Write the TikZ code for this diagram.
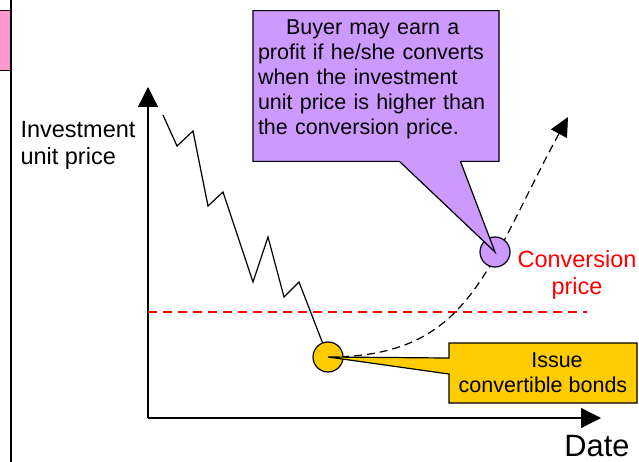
\documentclass[tikz,border=0pt]{standalone}
\usepackage{fontspec}
\setmainfont{Liberation Sans}
\usepackage{tikz}
\usetikzlibrary{arrows.meta,shapes.callouts}
\usepackage{xcolor}
\definecolor{tabpink}{HTML}{FF99CC}
\definecolor{buypurple}{HTML}{CC99FF}
\definecolor{bondyellow}{HTML}{FFCC00}

\begin{document}
\begin{tikzpicture}[
  x=1pt, y=-1pt,
  axis/.style={line width=1.3pt, -{Triangle[length=20pt,width=20pt]}},
  price/.style={line width=1.2pt},
  dot/.style={circle, draw, line width=1.2pt, minimum size=30pt, inner sep=0pt},
  note/.style={rectangle callout, draw, line width=1.2pt, font=\fontsize{21.5pt}{25pt}\selectfont},
  lbl/.style={align=left, font=\fontsize{23.5pt}{27pt}\selectfont}
]
\useasboundingbox (0,0) rectangle (639,462);

% side panel
\node[draw, price, fill=tabpink, minimum width=16pt, minimum height=60pt, anchor=north east] (tab) at (11,10) {};
\coordinate (sidetop) at (11,0);
\coordinate (sidebot) at (11,462);
\draw[price] (sidetop) -- (sidebot);

% axes
\coordinate (origin) at (148,418);
\coordinate (ytip) at (148,87);
\coordinate (xtip) at (601,418);
\draw[axis] (origin) -- (ytip);
\draw[axis] (origin) -- (xtip);
\node[lbl] (ylabel) at (78,145) {Investment\\unit price};
\node[font=\fontsize{30.8pt}{34pt}\selectfont] (xlabel) at (597,446) {Date};

% conversion price level
\coordinate (convleft) at (148,312);
\coordinate (convright) at (587,312);
\draw[red, line width=1.2pt, dash pattern=on 9pt off 6pt] (convleft) -- (convright);
\node[lbl, align=center, text=red] (convlabel) at (577,275) {Conversion\\price};

% price path
\coordinate (issuept) at (328,357);
\coordinate (convpt) at (495,252);
\coordinate (rise) at (568,117);
\draw[price, line join=miter] (163,115) -- (177,146) -- (193,131) -- (208,206) -- (223,192)
  -- (253,282) -- (268,237) -- (284,297) -- (299,282) -- (issuept);
\draw[price, dash pattern=on 8pt off 5pt, -{Triangle[length=19pt,width=18pt]}]
  (issuept) .. controls (470,357) and (485,270) .. (rise);

\node[dot, fill=bondyellow] (issue) at (issuept) {};
\node[dot, fill=buypurple] (conv) at (convpt) {};

% notes
\node[note, fill=bondyellow, align=center, minimum width=188pt, minimum height=60pt,
  callout absolute pointer={(issue.center)}, callout pointer width=16pt] (issuenote) at (543,373)
  {\hspace*{28pt}Issue\\convertible bonds};
\node[note, fill=buypurple, align=left, text width=236pt, inner xsep=5pt, inner ysep=9pt,
  callout absolute pointer={(conv.center)}, callout pointer width=61pt] (buynote) at (376,86)
  {\hspace*{28pt}Buyer may earn a\\profit if he/she converts\\when the investment\\unit price is higher than\\the conversion price.\rule[-18pt]{0pt}{18pt}};
\end{tikzpicture}
\end{document}
